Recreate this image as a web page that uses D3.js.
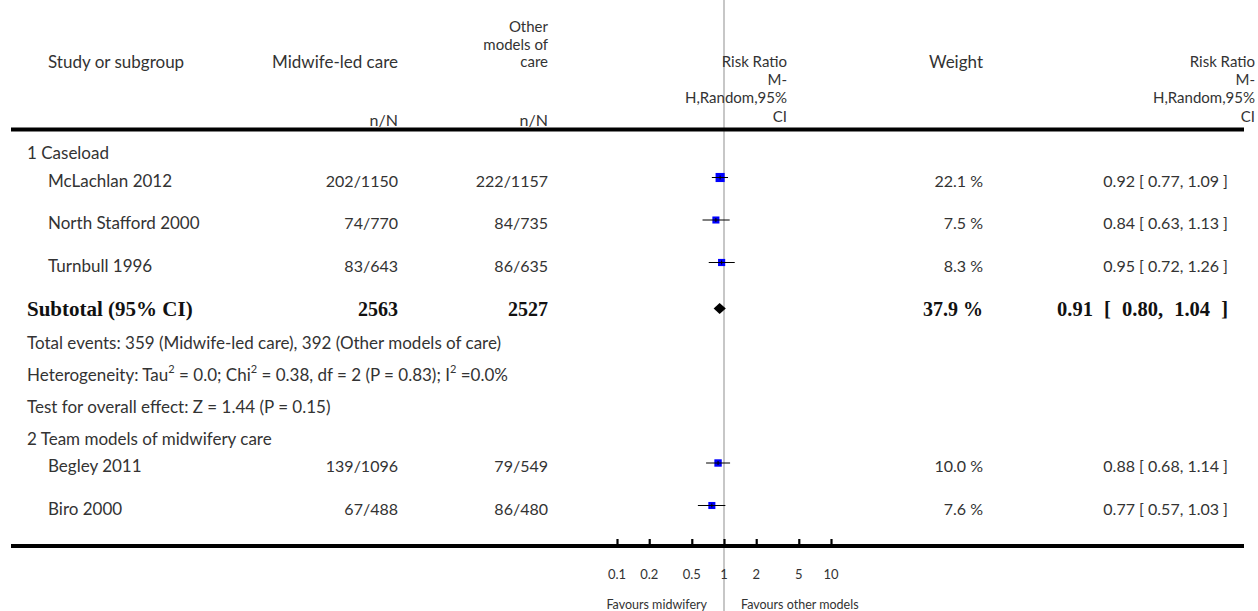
<!DOCTYPE html>
<html>
<head>
<meta charset="utf-8">
<script src="https://cdn.jsdelivr.net/npm/d3@7"></script>
<style>
  body { margin: 0; background: #fff; }
  text { font-family: Lato, "Open Sans", sans-serif; fill: #333; }
  .bold { font-family: "Liberation Serif", "DejaVu Serif", serif; font-weight: bold; fill: #111; }
</style>
</head>
<body>
<div class="chart"></div>
<script>
// ---- data ----
var studies = ["McLachlan 2012", "North Stafford 2000", "Turnbull 1996", "Begley 2011", "Biro 2000"];
var studyGroup = [0, 0, 0, 1, 1];
var midwifeEvents = [202, 74, 83, 139, 67];
var midwifeTotal = [1150, 770, 643, 1096, 488];
var otherEvents = [222, 84, 86, 79, 86];
var otherTotal = [1157, 735, 635, 549, 480];
var weights = [22.1, 7.5, 8.3, 10.0, 7.6];
var riskRatio = [0.92, 0.84, 0.95, 0.88, 0.77];
var ciLow = [0.77, 0.63, 0.72, 0.68, 0.57];
var ciHigh = [1.09, 1.13, 1.26, 1.14, 1.03];

var subgroups = ["1 Caseload", "2 Team models of midwifery care"];
var subtotalMidwife = [2563];
var subtotalOther = [2527];
var subtotalWeight = [37.9];
var subtotalRR = [0.91];
var subtotalLow = [0.80];
var subtotalHigh = [1.04];
// "^" marks a superscript 2
var subtotalNotes = [
  "Total events: 359 (Midwife-led care), 392 (Other models of care)",
  "Heterogeneity: Tau^ = 0.0; Chi^ = 0.38, df = 2 (P = 0.83); I^ =0.0%",
  "Test for overall effect: Z = 1.44 (P = 0.15)"
];
var axisTicks = [0.1, 0.2, 0.5, 1, 2, 5, 10];

// ---- layout ----
var W = 1258, H = 611;
var col = { label: 48, group: 27, mw: 398, other: 548, rrHead: 787, weight: 983, rrVal: 1228, rrHead2: 1255 };

var svg = d3.select(".chart").append("svg")
  .attr("width", W).attr("height", H);

var x = d3.scaleLog().domain([0.1, 10]).range([617, 831]);
var boxSize = d3.scaleLinear().domain([0, 25]).range([6, 9.5]);

// build row list (type + y)
var rows = [];
var y = 152;
rows.push({ type: "group", text: subgroups[0], y: y });
y += 28;
studies.forEach(function (s, i) {
  if (studyGroup[i] === 1 && studyGroup[i - 1] === 0) {
    // subtotal block for first group
    y += 1;
    rows.push({ type: "subtotal", y: y });
    y += 33;
    subtotalNotes.forEach(function (n) {
      rows.push({ type: "note", text: n, y: y });
      y += 32;
    });
    rows.push({ type: "group", text: subgroups[1], y: y });
    y += 28;
  }
  rows.push({ type: "study", i: i, y: y });
  y += 42.5;
});

// reference line at RR = 1
svg.append("line")
  .attr("x1", x(1)).attr("x2", x(1))
  .attr("y1", 0).attr("y2", H)
  .attr("stroke", "#b4b4b4").attr("stroke-width", 1.5);

// ---- header ----
var head = svg.append("g");
function headText(tx, ty, str, anchor, size) {
  head.append("text").attr("x", tx).attr("y", ty)
    .attr("text-anchor", anchor || "end")
    .attr("dominant-baseline", "central")
    .style("font-size", (size || 17) + "px")
    .text(str);
}
headText(col.label, 61, "Study or subgroup", "start");
headText(col.mw, 61, "Midwife-led care");
headText(col.other, 26, "Other", "end", 15);
headText(col.other, 43.5, "models of", "end", 15);
headText(col.other, 61, "care", "end", 15);
headText(col.mw, 119, "n/N", "end", 16);
headText(col.other, 119, "n/N", "end", 16);
["Risk Ratio", "M-", "H,Random,95%", "CI"].forEach(function (t, k) {
  var ty = [61, 79, 97, 116][k];
  headText(col.rrHead, ty, t, "end", 15);
  headText(col.rrHead2, ty, t, "end", 15);
});
headText(col.weight, 61, "Weight");

// thick rule under header
svg.append("line").attr("x1", 11).attr("x2", 1244).attr("y1", 129.5).attr("y2", 129.5)
  .attr("stroke", "#000").attr("stroke-width", 4);

// ---- body rows ----
var body = svg.append("g").style("font-size", "16px");
rows.forEach(function (r) {
  if (r.type === "group" || r.type === "note") {
    var t = body.append("text").attr("x", col.group).attr("y", r.y)
      .attr("dominant-baseline", "central").style("font-size", "17px");
    r.text.split("^").forEach(function (part, k) {
      if (k > 0) {
        t.append("tspan").attr("dy", -6).style("font-size", "11px").text("2");
        t.append("tspan").attr("dy", 6).text(part);
      } else {
        t.append("tspan").text(part);
      }
    });
  } else if (r.type === "study") {
    var i = r.i;
    var cells = [
      [col.label, studies[i], "start"],
      [col.mw, midwifeEvents[i] + "/" + midwifeTotal[i], "end"],
      [col.other, otherEvents[i] + "/" + otherTotal[i], "end"],
      [col.weight, weights[i].toFixed(1) + " %", "end"],
      [col.rrVal, riskRatio[i].toFixed(2) + " [ " + ciLow[i].toFixed(2) + ", " + ciHigh[i].toFixed(2) + " ]", "end"]
    ];
    cells.forEach(function (c, k) {
      body.append("text").attr("x", c[0]).attr("y", r.y)
        .attr("text-anchor", c[2]).attr("dominant-baseline", "central")
        .style("font-size", k === 0 ? "17px" : "16px").text(c[1]);
    });
    var my = r.y - 2.5, s = boxSize(weights[i]);
    body.append("rect")
      .attr("x", x(riskRatio[i]) - s / 2).attr("y", my - s / 2)
      .attr("width", s).attr("height", s).attr("fill", "#0000ff");
    body.append("line")
      .attr("x1", x(ciLow[i])).attr("x2", x(ciHigh[i]))
      .attr("y1", my).attr("y2", my)
      .attr("stroke", "#000").attr("stroke-width", 1);
    body.append("line")
      .attr("x1", x(riskRatio[i])).attr("x2", x(riskRatio[i]))
      .attr("y1", my - 2).attr("y2", my + 2)
      .attr("stroke", "#000").attr("stroke-width", 1);
  } else if (r.type === "subtotal") {
    var sc = [
      [col.group, "Subtotal (95% CI)", "start", 21, 0],
      [col.mw, subtotalMidwife[0], "end", 20, 0],
      [col.other, subtotalOther[0], "end", 20, 0],
      [col.weight, subtotalWeight[0].toFixed(1) + " %", "end", 20, 0],
      [col.rrVal, subtotalRR[0].toFixed(2) + " [ " + subtotalLow[0].toFixed(2) + ", " + subtotalHigh[0].toFixed(2) + " ]", "end", 20.5, 6]
    ];
    sc.forEach(function (c) {
      body.append("text").attr("class", "bold").attr("x", c[0]).attr("y", r.y)
        .attr("text-anchor", c[2]).attr("dominant-baseline", "central")
        .style("font-size", c[3] + "px")
        .style("word-spacing", c[4] + "px")
        .text(c[1]);
    });
    var dy = r.y;
    var pts = [
      [x(subtotalLow[0]), dy],
      [x(subtotalRR[0]), dy - 5.5],
      [x(subtotalHigh[0]), dy],
      [x(subtotalRR[0]), dy + 5.5]
    ];
    body.append("path").attr("d", d3.line()(pts) + "Z").attr("fill", "#000");
  }
});

// ---- axis ----
var axisY = 546;
var axis = d3.axisTop(x).tickValues(axisTicks).tickSize(7).tickFormat("");
var ax = svg.append("g").attr("transform", "translate(0," + axisY + ")").call(axis);
ax.select(".domain").remove();
ax.selectAll(".tick line").attr("stroke", "#000").attr("stroke-width", 2.2);
svg.append("line").attr("x1", 11).attr("x2", 1244).attr("y1", axisY).attr("y2", axisY)
  .attr("stroke", "#000").attr("stroke-width", 4);

svg.append("g").style("font-size", "13px").selectAll("text")
  .data(axisTicks).enter().append("text")
  .attr("x", function (d) { return x(d); })
  .attr("y", 574)
  .attr("text-anchor", "middle").attr("dominant-baseline", "central")
  .text(function (d) { return d; });

svg.append("text").attr("x", x(1) - 17).attr("y", 604)
  .attr("text-anchor", "end").attr("dominant-baseline", "central")
  .style("font-size", "12.5px").text("Favours midwifery");
svg.append("text").attr("x", x(1) + 17).attr("y", 604)
  .attr("text-anchor", "start").attr("dominant-baseline", "central")
  .style("font-size", "12.5px").text("Favours other models");
</script>
</body>
</html>
